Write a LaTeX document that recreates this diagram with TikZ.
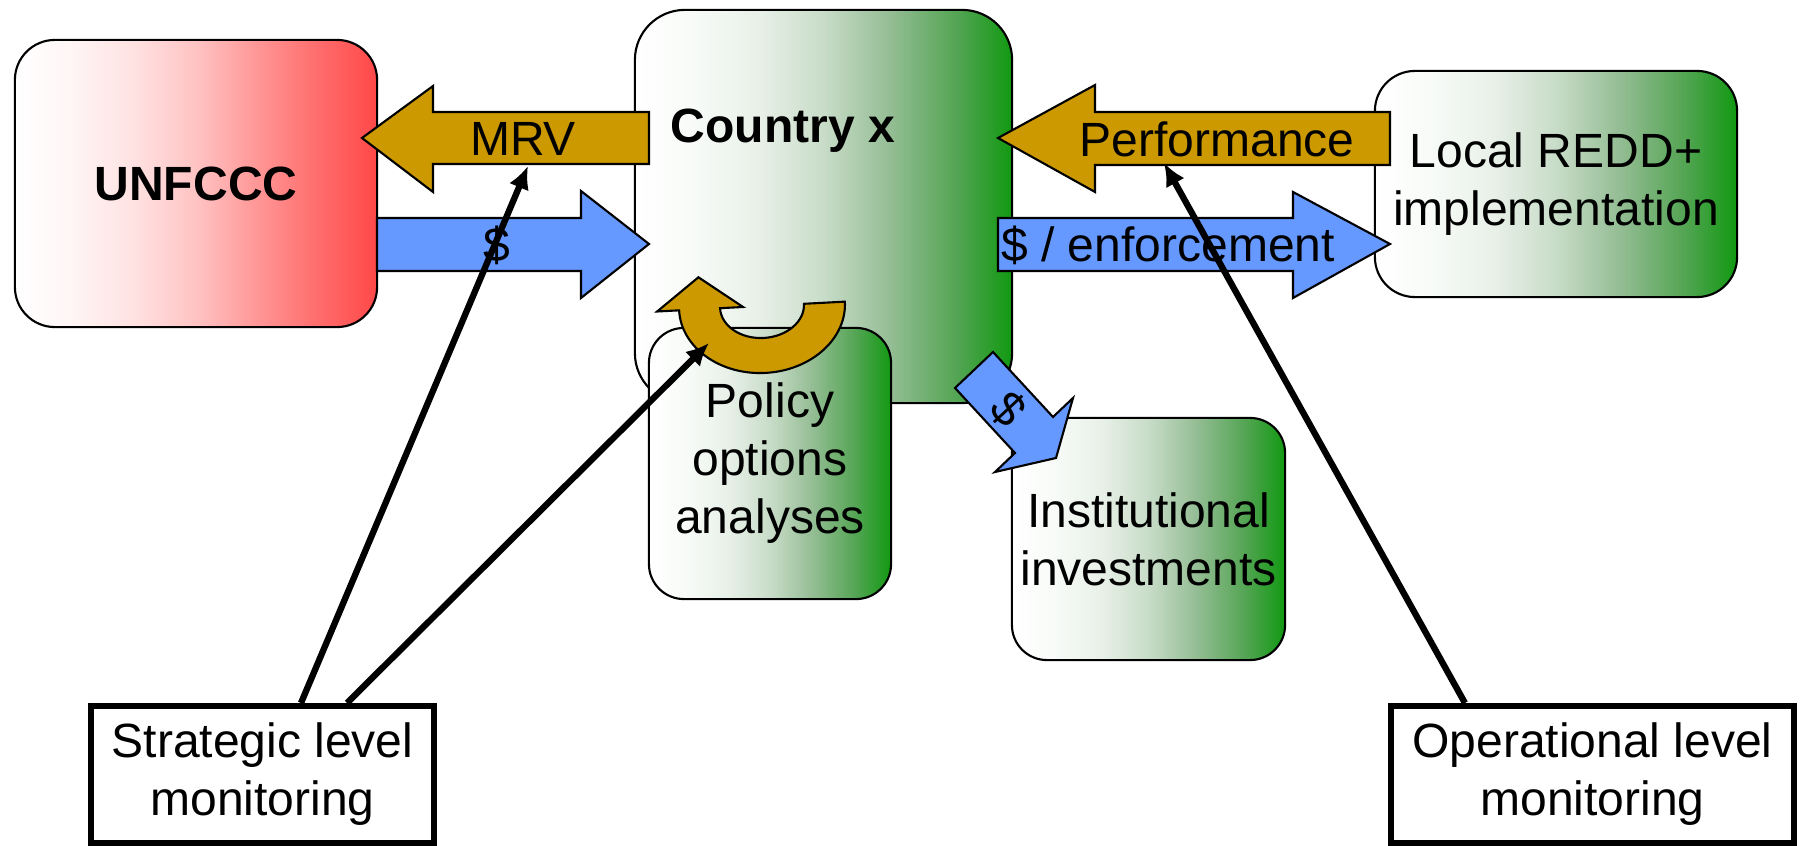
\documentclass[tikz,border=0pt]{standalone}
\usepackage{fontspec}
\setmainfont{Liberation Sans}
\usetikzlibrary{arrows.meta}
\definecolor{gold}{RGB}{204,153,0}
\definecolor{skyblue}{RGB}{102,153,255}
\definecolor{forest}{RGB}{17,153,17}
\definecolor{gA}{RGB}{248,251,248}
\definecolor{gB}{RGB}{232,240,232}
\definecolor{gC}{RGB}{200,220,200}
\definecolor{gD}{RGB}{150,190,150}
\definecolor{gE}{RGB}{85,165,85}
\definecolor{rA}{RGB}{255,246,246}
\definecolor{rB}{RGB}{255,225,225}
\definecolor{rC}{RGB}{255,195,195}
\definecolor{rD}{RGB}{255,150,150}
\definecolor{rE}{RGB}{255,105,105}
\definecolor{redend}{RGB}{255,72,72}
\pgfdeclarehorizontalshading{greenfade}{100bp}{color(0bp)=(white); color(25bp)=(white); color(32.5bp)=(gA); color(41.5bp)=(gB); color(50bp)=(gC); color(58.5bp)=(gD); color(67.5bp)=(gE); color(75bp)=(forest); color(100bp)=(forest)}
\pgfdeclarehorizontalshading{redfade}{100bp}{color(0bp)=(white); color(25bp)=(white); color(32.5bp)=(rA); color(41.5bp)=(rB); color(50bp)=(rC); color(58.5bp)=(rD); color(67.5bp)=(rE); color(75bp)=(redend); color(100bp)=(redend)}
\newcommand\diagfont{\fontsize{13.66}{16.5}\selectfont}
\begin{document}
\begin{tikzpicture}[x=0.01cm,y=0.01cm,font=\diagfont,
	rbox/.style={draw=black,line width=0.6pt,shading=greenfade,align=center,inner sep=0pt},
	monbox/.style={draw=black,line width=1.7pt,fill=white,align=center},
	blockline/.style={draw=black,line width=0.6pt},
	monline/.style={line width=1.8pt,-{Latex[length=6.5pt,width=6pt]}}]
		\useasboundingbox (0,0) rectangle (1800,-846);
		% boxes
		\node[rbox,rounded corners=0.5cm,minimum width=3.77cm,minimum height=3.93cm] (country) at (823.5,-206.5) {};
		\node[rbox,rounded corners=0.35cm,minimum width=2.42cm,minimum height=2.71cm] (policy) at (770,-463.5) {Policy\\options\\analyses};
		\node[rbox,shading=redfade,rounded corners=0.4cm,minimum width=3.62cm,minimum height=2.87cm,font=\diagfont\bfseries] (unfccc) at (196,-183.5) {UNFCCC};
		\node[rbox,rounded corners=0.4cm,minimum width=3.62cm,minimum height=2.26cm] (local) at (1556,-184) {Local REDD+\\implementation};
		\node[rbox,rounded corners=0.35cm,minimum width=2.73cm,minimum height=2.42cm] (inst) at (1148.5,-539) {Institutional\\investments};
		\node[font=\diagfont\bfseries,anchor=base] (countrylbl) at (783,-143) {Country x};
		\node[monbox,minimum width=3.43cm,minimum height=1.37cm] (strat) at (262.5,-774.5) {Strategic level\\monitoring};
		\node[monbox,minimum width=4.03cm,minimum height=1.37cm] (oper) at (1592.5,-774.5) {Operational level\\monitoring};
		% flows
		\draw[blockline,fill=gold] (362,-138) -- (433,-86) -- (433,-112) -- (649,-112) -- (649,-164) -- (433,-164) -- (433,-192) -- cycle;
		\node[anchor=base] (mrvlbl) at (523,-156) {MRV};
		\draw[blockline,fill=skyblue] (377,-218) -- (581,-218) -- (581,-191) -- (649,-244) -- (581,-298) -- (581,-271) -- (377,-271) -- cycle;
		\node[anchor=base] (cashlbl) at (497,-262) {\$};
		\draw[blockline,fill=gold] (998,-138) -- (1095,-85) -- (1095,-112) -- (1390,-112) -- (1390,-165) -- (1095,-165) -- (1095,-192) -- cycle;
		\node[anchor=base] (perflbl) at (1217,-157) {Performance};
		\draw[blockline,fill=skyblue] (998,-218) -- (1293,-218) -- (1293,-192) -- (1390,-244) -- (1293,-298) -- (1293,-271) -- (998,-271) -- cycle;
		\node[anchor=base] (enflbl) at (1168,-262) {\$ / enforcement};
		\draw[blockline,fill=skyblue] (955,-388) -- (993,-352) -- (1053,-417) -- (1073,-398) -- (1056,-458) -- (995,-472) -- (1015,-453) -- cycle;
		\node[rotate=-47] (investlbl) at (1008,-409) {\$};
		% policy loop
		\draw[blockline,fill=gold,shift={(762,-306)},rotate=3] (83,0) arc[start angle=0,end angle=-180,x radius=83,y radius=67] -- (-105,0) -- (-62,32) -- (-19,0) -- (-42,0) arc[start angle=180,end angle=360,x radius=42,y radius=32] -- cycle;
		% monitoring links
		\coordinate (mrvend) at (528,-166);
		\coordinate (loopend) at (709,-343);
		\coordinate (perfend) at (1164,-163);
		\draw[monline] ([xshift=0.385cm]strat.north) -- (mrvend);
		\draw[monline] ([xshift=0.845cm]strat.north) -- (loopend);
		\draw[monline] ([xshift=-1.275cm]oper.north) -- (perfend);
\end{tikzpicture}
\end{document}
